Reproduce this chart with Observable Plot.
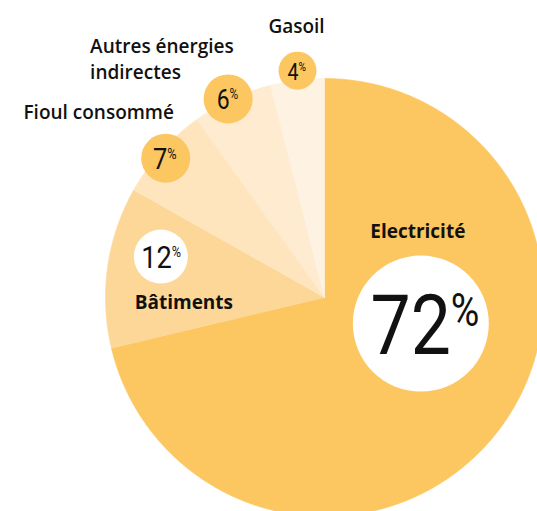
<!DOCTYPE html>
<html><head><meta charset="utf-8">
<script src="https://cdn.jsdelivr.net/npm/d3@7"></script>
<script src="https://cdn.jsdelivr.net/npm/@observablehq/plot@0.6"></script>
<style>
html,body{margin:0;padding:0;background:#fff;overflow:hidden;}
#chart svg{display:block;}
</style>
</head><body><div id="chart"></div>
<script>
// ---- data ----
const categories = ["Electricité", "Bâtiments", "Fioul consommé", "Autres énergies indirectes", "Gasoil"];
const shares = [72, 12, 7, 6, 4];
const pctSuffix = "%";

// ---- styling / layout ----
const W = 537, H = 511, CX = 324, CY = 297, R = 219;
const palette = ["#FCC660", "#FDD797", "#FEE5BE", "#FEEBD0", "#FEF3E2"];
const ink = "#111";

const arcs = d3.pie().sort(null).value(d => d)(shares);
const slices = arcs.map((a, i) => ({
  category: categories[i], share: shares[i],
  start: a.startAngle, end: a.endAngle, mid: (a.startAngle + a.endAngle) / 2
}));
const polar = (a, r) => [r * Math.sin(a), r * Math.cos(a)];

// slice outlines computed from the shares (unit radius)
const outline = slices.flatMap(s => {
  const n = Math.max(2, Math.ceil((s.end - s.start) / (Math.PI / 360)));
  const pts = [{category: s.category, x: 0, y: 0}];
  for (let k = 0; k <= n; k++) {
    const [x, y] = polar(s.start + (s.end - s.start) * k / n, 1);
    pts.push({category: s.category, x, y});
  }
  pts.push({category: s.category, x: 0, y: 0});
  return pts;
});

const styles = {
  "Electricité": {f: 0.45, dx: 19, dy: -35, r: 68, fill: "white", num: 84, pct: 46, w: 400, anchor: 30, numDy: 3.5, pctDy: -12.5,
    name: {dx: -3, dy: -94, anchor: "middle", weight: "bold"}},
  "Bâtiments": {f: 0.75, dx: -1, dy: -18, r: 27, fill: "white", num: 32, pct: 15, w: 400, anchor: 11, numDy: 1.5, pctDy: -4.5,
    name: {dx: 23, dy: 44, anchor: "middle", weight: "bold"}},
  "Fioul consommé": {f: 0.98, dx: 1, dy: 4, r: 24.5, fill: "#FCC660", num: 30, pct: 15, w: 400, anchor: 1.5, numDy: 1.5, pctDy: -4,
    name: {dx: -67, dy: -48, anchor: "middle", weight: 600}},
  "Autres énergies indirectes": {f: 1.0, dx: -4, dy: 0, r: 24.5, fill: "#FCC660", num: 27, pct: 14, w: 400, anchor: 1.5, numDy: 1, pctDy: -4.5,
    name: {dx: -138, dy: -41.5, anchor: "start", weight: 600, lineWidth: 9}},
  "Gasoil": {f: 1.03, dx: 1, dy: -3, r: 19, fill: "#FCC660", num: 23, pct: 12, w: 400, anchor: 1, numDy: 2, pctDy: -3.5,
    name: {dx: -1, dy: -46.5, anchor: "middle", weight: 600}}
};

function sliceLabel(s) {
  const st = styles[s.category];
  const X = d => polar(d.mid, st.f)[0];
  const Y = d => polar(d.mid, st.f)[1];
  const data = [s];
  return [
    Plot.dot(data, {x: X, y: Y, dx: st.dx, dy: st.dy, r: st.r, fill: st.fill}),
    Plot.text(data, {x: X, y: Y, dx: st.dx + st.anchor, dy: st.dy + st.numDy, text: d => String(d.share),
      textAnchor: "end", fontSize: st.num, fontFamily: "Roboto", fontWeight: st.w, fill: ink}),
    Plot.text(data, {x: X, y: Y, dx: st.dx + st.anchor, dy: st.dy + st.pctDy, text: () => pctSuffix,
      textAnchor: "start", fontSize: st.pct, fontFamily: "Roboto", fontWeight: st.w, fill: ink}),
    Plot.text(data, {x: X, y: Y, dx: st.dx + st.name.dx, dy: st.dy + st.name.dy, text: "category",
      textAnchor: st.name.anchor, fontSize: 19, fontFamily: "Open Sans", fontWeight: st.name.weight, fill: ink,
      lineWidth: st.name.lineWidth || 30, lineHeight: 1.37})
  ];
}

const chart = Plot.plot({
  width: W, height: H, margin: 0,
  x: {domain: [-CX / R, (W - CX) / R], axis: null},
  y: {domain: [-(H - CY) / R, CY / R], axis: null},
  color: {domain: categories, range: palette},
  marks: [
    Plot.line(outline, {x: "x", y: "y", z: "category", fill: "category", stroke: "category", strokeWidth: 0.6, curve: "linear"}),
    ...slices.flatMap(sliceLabel)
  ]
});
document.getElementById("chart").appendChild(chart);

// condensed look for the figures
chart.querySelectorAll('g[font-family="Roboto"] text').forEach(t => {
  const len = t.getComputedTextLength();
  t.setAttribute("lengthAdjust", "spacingAndGlyphs");
  t.setAttribute("textLength", (len * 0.85).toFixed(1));
});
</script>
</body></html>
